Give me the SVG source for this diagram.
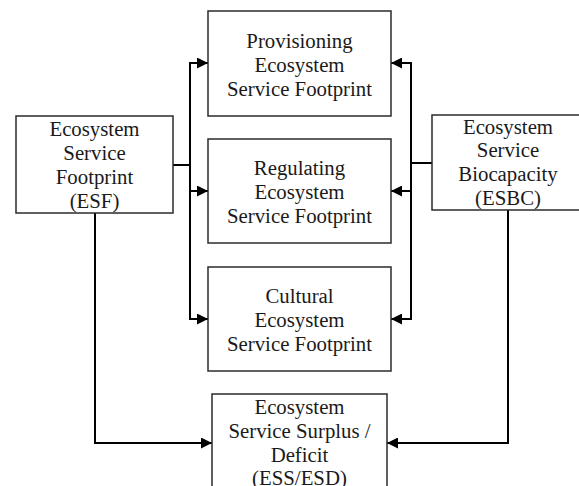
<svg xmlns="http://www.w3.org/2000/svg" width="579" height="486" viewBox="0 0 579 486">
  <style>
    .box { fill: #ffffff; stroke: #2b2b2b; stroke-width: 1.5; }
    .lbl { font-family: "Liberation Serif", "Times New Roman", serif; font-size: 20.8px; fill: #1a1a1a; text-anchor: middle; }
    .wire { fill: none; stroke: #000000; stroke-width: 2; }
  </style>
  <defs>
    <marker id="arrow" markerUnits="userSpaceOnUse" markerWidth="11" markerHeight="11" refX="11" refY="5.5" orient="auto">
      <path d="M0,0 L11,5.5 L0,11 Z" fill="#000000"/>
    </marker>
  </defs>

  <rect width="579" height="486" fill="#ffffff"/>

  <!-- connectors -->
  <g id="connectors">
    <!-- footprint side: trunk feeding the three footprint categories -->
    <path class="wire" d="M173,165 H190"/>
    <path class="wire" d="M190,191 V63 H208" marker-end="url(#arrow)"/>
    <path class="wire" d="M190,165 V319 H208" marker-end="url(#arrow)"/>
    <path class="wire" d="M190,191 H208" marker-end="url(#arrow)"/>
    <!-- biocapacity side -->
    <path class="wire" d="M432,163 H411"/>
    <path class="wire" d="M411,191 V63 H391" marker-end="url(#arrow)"/>
    <path class="wire" d="M411,163 V319 H391" marker-end="url(#arrow)"/>
    <path class="wire" d="M411,191 H391" marker-end="url(#arrow)"/>
    <!-- into surplus / deficit -->
    <path class="wire" d="M95,213 V443 H212" marker-end="url(#arrow)"/>
    <path class="wire" d="M508,210 V443 H387" marker-end="url(#arrow)"/>
  </g>

  <g id="esf">
    <rect class="box" x="16" y="116" width="157" height="97"/>
    <text class="lbl" x="94.5" y="136">Ecosystem</text>
    <text class="lbl" x="94.5" y="160">Service</text>
    <text class="lbl" x="94.5" y="184">Footprint</text>
    <text class="lbl" x="94.5" y="208">(ESF)</text>
  </g>

  <g id="esbc">
    <rect class="box" x="432" y="115" width="152" height="95"/>
    <text class="lbl" x="508" y="134">Ecosystem</text>
    <text class="lbl" x="508" y="157">Service</text>
    <text class="lbl" x="508" y="181">Biocapacity</text>
    <text class="lbl" x="508" y="205">(ESBC)</text>
  </g>

  <g id="provisioning">
    <rect class="box" x="208" y="11" width="183" height="105"/>
    <text class="lbl" x="299.5" y="47.5">Provisioning</text>
    <text class="lbl" x="299.5" y="71.5">Ecosystem</text>
    <text class="lbl" x="299.5" y="95.5">Service Footprint</text>
  </g>

  <g id="regulating">
    <rect class="box" x="208" y="139" width="183" height="104"/>
    <text class="lbl" x="299.5" y="175">Regulating</text>
    <text class="lbl" x="299.5" y="199">Ecosystem</text>
    <text class="lbl" x="299.5" y="223">Service Footprint</text>
  </g>

  <g id="cultural">
    <rect class="box" x="208" y="267" width="183" height="104"/>
    <text class="lbl" x="299.5" y="303">Cultural</text>
    <text class="lbl" x="299.5" y="327">Ecosystem</text>
    <text class="lbl" x="299.5" y="351">Service Footprint</text>
  </g>

  <g id="surplus-deficit">
    <rect class="box" x="212" y="394" width="175" height="110"/>
    <text class="lbl" x="299.5" y="414">Ecosystem</text>
    <text class="lbl" x="299.5" y="438">Service Surplus /</text>
    <text class="lbl" x="299.5" y="462">Deficit</text>
    <text class="lbl" x="299.5" y="485">(ESS/ESD)</text>
  </g>
</svg>
